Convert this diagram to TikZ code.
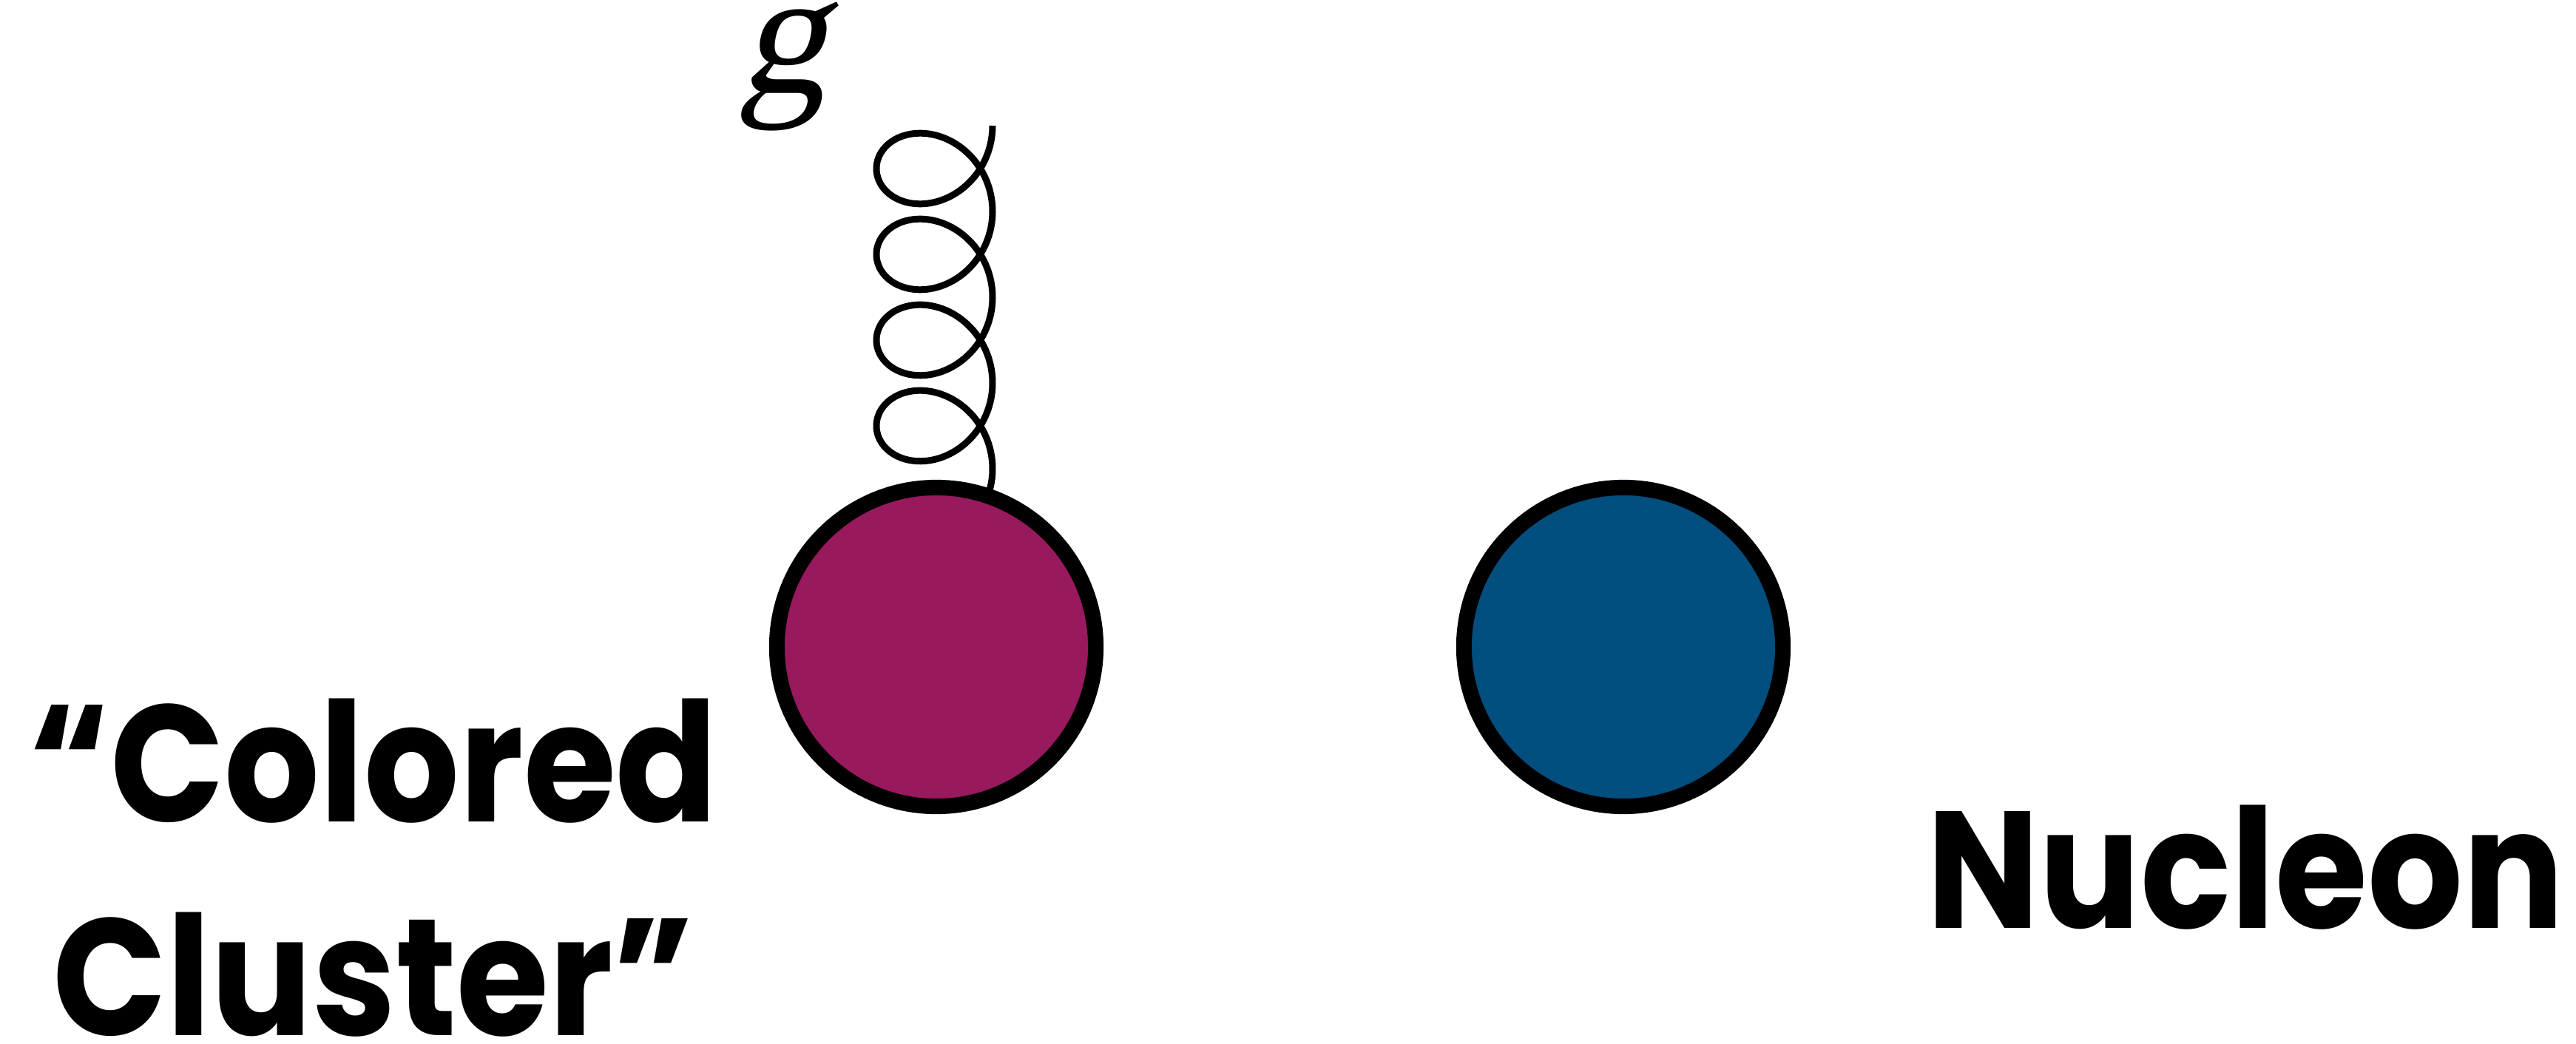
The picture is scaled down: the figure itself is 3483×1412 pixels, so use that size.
\documentclass[tikz,border=0pt]{standalone}
\usepackage{fontspec}
\newfontfamily\labfont{Poppins}
\newfontfamily\symfont[FakeSlant=0.22]{Liberation Serif}
\definecolor{clustercol}{RGB}{152,25,93}
\definecolor{nucleoncol}{RGB}{2,78,126}
\tikzset{
  ball/.style={circle, draw=black, line width=0.21cm, minimum size=4.31cm, inner sep=0pt},
  gluonline/.style={draw=black, line width=0.09cm, line join=round},
  biglabel/.style={font=\labfont\bfseries\fontsize{64}{82}\selectfont, inner sep=0pt, align=center, xscale=0.9},
}
\begin{document}
\begin{tikzpicture}[x=0.01cm, y=-0.01cm]
\useasboundingbox (0,0) rectangle (3483,1412);
\coordinate (gtop) at (1342,170);
\draw[gluonline] plot[domain=0:25.53, samples=500, variable=\s]
  ({1263.5+78.5*cos(\s r)}, {170+18.46*\s+74.5*sin(\s r)});
\node[ball, fill=clustercol] (cluster) at (1266,875) {};
\node[ball, fill=nucleoncol] (nucleon) at (2195,875) {};
\node[inner sep=0pt, font=\symfont\fontsize{68}{68}\selectfont] (glabel) at (1058,90) {g};
\node[biglabel, anchor=base] (cclabel) at (505,1400) {“Colored\\Cluster”};
\node[biglabel, anchor=base] (nlabel) at (3036,1255) {Nucleon};
\end{tikzpicture}
\end{document}
